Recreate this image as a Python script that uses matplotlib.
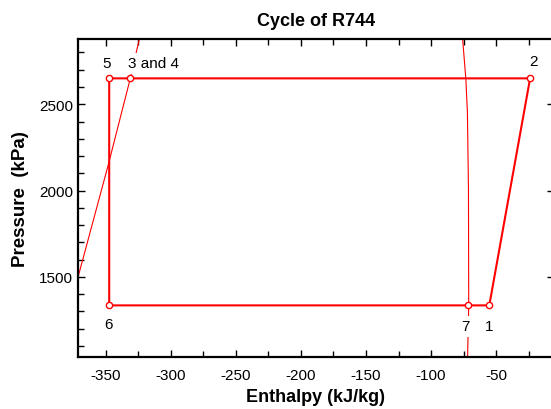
import numpy as np
import matplotlib
matplotlib.use('Agg')
import matplotlib.pyplot as plt
from matplotlib.ticker import MultipleLocator

matplotlib.rcParams['font.family'] = ['Liberation Sans', 'DejaVu Sans']
matplotlib.rcParams['axes.unicode_minus'] = False
matplotlib.rcParams['xtick.labelsize'] = 11
matplotlib.rcParams['ytick.labelsize'] = 11

# cycle states: 1 -> 2 -> 3/4 -> 5 -> 6 -> 7 -> 1
h_cycle = [-55.2, -23.8, -331.3, -347.5, -347.5, -71.3, -55.2]
P_cycle = [1335, 2650, 2650, 2650, 1335, 1335, 1335]
state_labels = ['1', '2', '3 and 4', '5', '6', '7']
label_idx = [0, 1, 2, 3, 4, 5]

# thin reference lines through the cycle
h_left = [-382.0, -371.5, -348.3, -331.3, -324.6, -322.2]
P_left = [1200, 1498, 2147, 2649, 2870, 2950]
h_right = [-72.0, -71.0, -71.2, -72.0, -73.2, -75.6, -77.0]
P_right = [1000, 1330, 2008, 2450, 2645, 2870, 2950]

red = '#ff0000'

fig = plt.figure(figsize=(5.51, 4.10), dpi=100)
ax = fig.add_axes([78/551, 52/410, 475.5/551, 318/410])

ax.plot(h_left, P_left, '-', color=red, lw=0.8, zorder=2)
ax.plot(h_right, P_right, '-', color=red, lw=0.8, zorder=2)
ax.plot(h_cycle, P_cycle, '-', color=red, lw=1.5, zorder=3)
ax.plot(h_cycle[:-1], P_cycle[:-1], 'o', ms=4.5, mfc='white', mec=red, mew=1.0, zorder=4)

# label offsets in pixels (dx, dy) and horizontal alignment
offsets = {'1': (0, -21, 'center'), '2': (3, 17, 'center'),
           '3 and 4': (-2, 15, 'left'), '5': (-3, 15, 'center'),
           '6': (-1, -19, 'center'), '7': (-3, -21, 'center')}
for i, lab in zip(label_idx, state_labels):
    dx, dy, ha = offsets[lab]
    ax.annotate(lab, (h_cycle[i], P_cycle[i]), xytext=(dx, dy),
                textcoords='offset pixels', ha=ha, va='center', fontsize=11,
                bbox=dict(boxstyle='square,pad=0.25', fc='white', ec='none'),
                zorder=5)

ax.set_xlim(-371.5, -5.8)
ax.set_ylim(1036, 2878)
ax.xaxis.set_major_locator(MultipleLocator(50))
ax.xaxis.set_minor_locator(MultipleLocator(25))
ax.yaxis.set_major_locator(MultipleLocator(500))
ax.yaxis.set_minor_locator(MultipleLocator(100))
ax.tick_params(direction='in', top=True, right=True, which='both', width=1.0)
ax.tick_params(which='major', length=5)
ax.tick_params(which='minor', length=4)
ax.tick_params(axis='x', which='major', pad=8)
ax.tick_params(axis='y', which='minor', right=False)
for s in ax.spines.values():
    s.set_linewidth(1.6)

ax.set_xlabel('Enthalpy (kJ/kg)', fontsize=13, fontweight='bold', labelpad=4)
ax.set_ylabel('Pressure  (kPa)', fontsize=13.5, fontweight='bold', labelpad=7)
ax.set_title('Cycle of R744', fontsize=13, fontweight='bold', pad=10)

fig.savefig('out.png', dpi=100)
